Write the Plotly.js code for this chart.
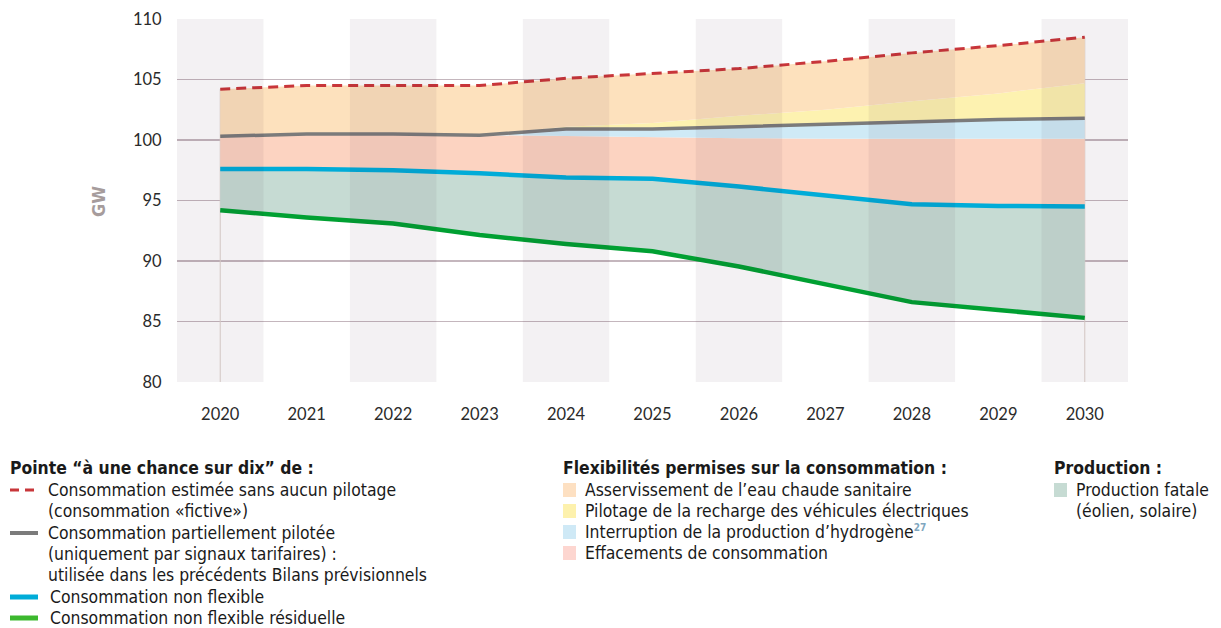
<!DOCTYPE html>
<html>
<head>
<meta charset="utf-8">
<script src="https://cdn.plot.ly/plotly-3.0.1.min.js"></script>
<style>
  html, body { margin: 0; padding: 0; background: #ffffff; }
  #chart { width: 1221px; height: 628px; }
</style>
</head>
<body>
<div id="chart"></div>
<script>
// ---- Data (GW) ----
const years = [2020, 2021, 2022, 2023, 2024, 2025, 2026, 2027, 2028, 2029, 2030];
const consoSansPilotage   = [104.2, 104.5, 104.5, 104.5, 105.1, 105.5, 105.9, 106.5, 107.2, 107.8, 108.5]; // red dashed
const hautVehicules       = [100.3, 100.5, 100.5, 100.4, 101.1, 101.4, 102.0, 102.5, 103.2, 103.85, 104.7]; // top of EV band
const consoPartielPilotee = [100.3, 100.5, 100.5, 100.4, 100.9, 100.9, 101.1, 101.3, 101.5, 101.7, 101.8]; // grey
const hautEffacements     = [100.3, 100.5, 100.5, 100.4, 100.3, 100.2, 100.15, 100.1, 100.1, 100.1, 100.1]; // top of effacements band
const consoNonFlexible    = [97.6, 97.6, 97.5, 97.25, 96.9, 96.8, 96.15, 95.45, 94.7, 94.55, 94.5]; // blue
const consoResiduelle     = [94.2, 93.6, 93.1, 92.15, 91.4, 90.8, 89.55, 88.1, 86.6, 85.95, 85.3]; // green
const yTicks = [80, 85, 90, 95, 100, 105, 110];

// ---- Styles ----
const FONT = "'DejaVu Sans Condensed', 'Liberation Sans', sans-serif";
const TICKFONT = "Lato, 'Open Sans', sans-serif";
const LEGSIZE = 17.4;
const cRed = '#c8363a', cGrey = '#7b7b7b', cBlue = '#00acd8', cGreen = '#00a032';
const fOrange = '#fde1bd', fYellow = '#fdf2b0', fLightBlue = '#cfeaf6', fPink = '#fcd3c1', fFatale = '#c6dbd3';

// plot area in pixels
const L = 177, R = 1128, T = 19, B = 382;
const px = x => (x - L) / (R - L);
const py = y => (B - y) / (B - T);

function fillTrace(y, color, fill) {
  return { x: years, y: y, type: 'scatter', mode: 'lines', line: { width: 0, color: color },
           fill: fill, fillcolor: color, hoverinfo: 'skip', showlegend: false };
}
function lineTrace(y, color, width, dash) {
  return { x: years, y: y, type: 'scatter', mode: 'lines',
           line: { color: color, width: width, dash: dash || 'solid' }, hoverinfo: 'skip', showlegend: false };
}

const traces = [
  // edge verticals
  { x: [years[0], years[0]], y: [80, consoSansPilotage[0]], mode: 'lines', line: { color: '#ddd3cc', width: 1 }, hoverinfo: 'skip', showlegend: false },
  { x: [years[10], years[10]], y: [80, consoSansPilotage[10]], mode: 'lines', line: { color: '#ddd3cc', width: 1 }, hoverinfo: 'skip', showlegend: false },
  fillTrace(consoResiduelle, 'rgba(0,0,0,0)', 'none'),
  fillTrace(consoNonFlexible, fFatale, 'tonexty'),
  fillTrace(hautEffacements, fPink, 'tonexty'),
  fillTrace(consoPartielPilotee, fLightBlue, 'tonexty'),
  fillTrace(hautVehicules, fYellow, 'tonexty'),
  fillTrace(consoSansPilotage, fOrange, 'tonexty'),
  lineTrace(consoResiduelle, cGreen, 4.5),
  lineTrace(consoNonFlexible, cBlue, 4.5),
  lineTrace(consoPartielPilotee, cGrey, 3.5),
  { x: years, y: consoSansPilotage, type: 'scatter', mode: 'lines',
    line: { color: cRed, width: 3, dash: '10px,6px' }, hoverinfo: 'skip', showlegend: false }
];

// alternating column bands (translucent, drawn over fills so they darken them like the reference)
const shapes = [];
years.forEach((yr, i) => {
  if (i % 2 === 0) {
    shapes.push({ type: 'rect', xref: 'x', yref: 'paper', x0: yr - 0.5, x1: yr + 0.5, y0: 0, y1: 1,
                  fillcolor: 'rgba(40,0,30,0.056)', line: { width: 0 }, layer: 'above' });
  }
});

// legend samples
function legLine(y, color, dash, width) {
  shapes.push({ type: 'line', xref: 'paper', yref: 'paper', x0: px(10), x1: px(38), y0: py(y), y1: py(y),
                line: { color: color, width: width, dash: dash || 'solid' } });
}
legLine(490, cRed, '9px,6px', 3);
legLine(533, cGrey, 'solid', 4);
legLine(597, cBlue, 'solid', 5);
legLine(618, '#3cb82e', 'solid', 5);

function legSquare(x, y, color) {
  shapes.push({ type: 'rect', xref: 'paper', yref: 'paper', x0: px(x), x1: px(x + 13), y0: py(y - 7), y1: py(y + 7),
                fillcolor: color, line: { width: 0 } });
}
legSquare(563, 490, '#fde0c2');
legSquare(563, 511, '#fdf1ad');
legSquare(563, 532, '#cfe9f6');
legSquare(563, 553, '#fdd6d0');
legSquare(1054, 490, '#c6dbd3');

const annotations = [];
function txt(x, y, text, opts) {
  annotations.push(Object.assign({ xref: 'paper', yref: 'paper', x: px(x), y: py(y), text: text,
    showarrow: false, xanchor: 'left', yanchor: 'middle', align: 'left',
    font: { family: FONT, size: LEGSIZE, color: '#1a1a1a' } }, opts || {}));
}
txt(8, 468, '<b>Pointe “à une chance sur dix” de :</b>');
txt(46, 490, 'Consommation estimée sans aucun pilotage');
txt(46, 511, '(consommation «fictive»)');
txt(46, 533, 'Consommation partiellement pilotée');
txt(46, 554, '(uniquement par signaux tarifaires) :');
txt(46, 575, 'utilisée dans les précédents Bilans prévisionnels');
txt(48, 597, 'Consommation non flexible');
txt(48, 618, 'Consommation non flexible résiduelle');

txt(561, 468, '<b>Flexibilités permises sur la consommation :</b>');
txt(583, 490, 'Asservissement de l’eau chaude sanitaire');
txt(583, 511, 'Pilotage de la recharge des véhicules électriques');
txt(583, 532, 'Interruption de la production d’hydrogène<sup><span style="color:#7fa7c0;font-size:10px"><b>27</b></span></sup>');
txt(583, 553, 'Effacements de consommation');

txt(1052, 468, '<b>Production :</b>');
txt(1074, 490, 'Production fatale');
txt(1074, 511, '(éolien, solaire)');

// y axis title
annotations.push({ xref: 'paper', yref: 'paper', x: px(98), y: py(202), text: '<b>GW</b>', textangle: -90,
  showarrow: false, xanchor: 'center', yanchor: 'middle', font: { family: FONT, size: 18, color: '#a69c9c' } });

const layout = {
  width: 1221, height: 628,
  margin: { l: L, r: 1221 - R, t: T, b: 628 - B, pad: 0 },
  paper_bgcolor: '#ffffff', plot_bgcolor: '#ffffff',
  showlegend: false,
  xaxis: {
    range: [years[0] - 0.5, years[10] + 0.5], tickmode: 'array', tickvals: years, ticktext: years.map(String),
    showgrid: false, zeroline: false, showline: false,
    ticks: 'outside', ticklen: 17, tickcolor: 'rgba(0,0,0,0)',
    tickfont: { family: TICKFONT, size: 16.5, color: '#2a2a2a' }, fixedrange: true
  },
  yaxis: {
    range: [80, 110], tickmode: 'array', tickvals: yTicks, ticktext: yTicks.map(String),
    showgrid: true, gridcolor: '#c4b6bd', gridwidth: 1.2, zeroline: false, showline: false,
    ticks: 'outside', ticklen: 11, tickcolor: 'rgba(0,0,0,0)',
    tickfont: { family: TICKFONT, size: 16.5, color: '#2a2a2a' }, fixedrange: true
  },
  shapes: shapes,
  annotations: annotations
};

Plotly.newPlot('chart', traces, layout, { displayModeBar: false, staticPlot: true });
</script>
</body>
</html>
